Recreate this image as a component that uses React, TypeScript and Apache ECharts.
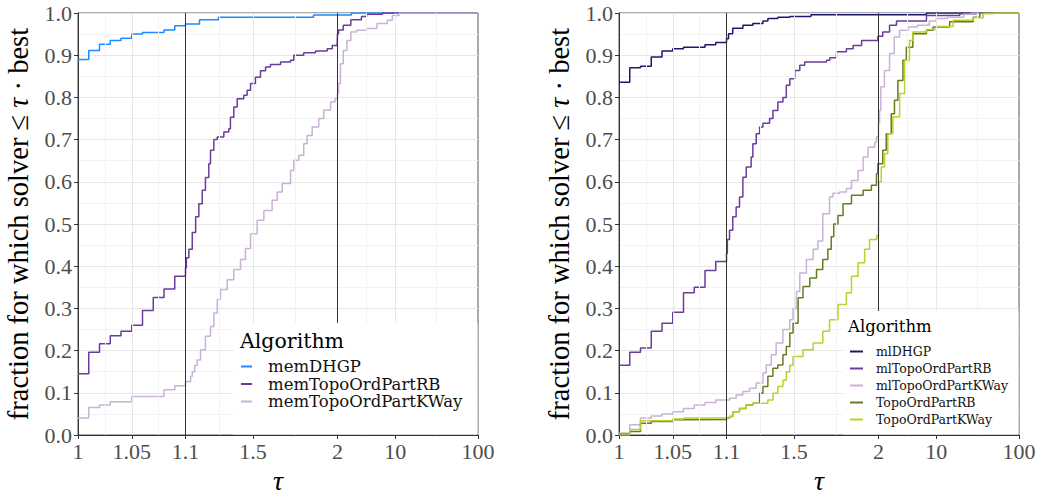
import React, { useEffect, useRef } from "react";
import * as echarts from "echarts";

// ---- axis ticks (tau) ----
const xTickVals = [1, 1.05, 1.1, 1.5, 2, 10, 100];
const xTickLabels = ["1", "1.05", "1.1", "1.5", "2", "10", "100"];
const xMinorVals = [1.025, 1.075, 1.3, 1.75, 4.4721, 31.623];
const xBreaks = [1.1, 2];

// ---- left panel series: [tau, fraction] ----
const memDHGP: number[][] = [
  [1, 0.89], [1.01, 0.911], [1.02, 0.926], [1.03, 0.935], [1.04, 0.94], [1.05, 0.95],
  [1.06, 0.954], [1.08, 0.96], [1.09, 0.97], [1.1, 0.974], [1.183, 0.984], [1.295, 0.99],
  [1.858, 0.995], [2.95, 1], [100, 1],
];
const memTopoOrdPartRB: number[][] = [
  [1, 0.145], [1.01, 0.196], [1.02, 0.216], [1.03, 0.235], [1.04, 0.246], [1.05, 0.26],
  [1.06, 0.295], [1.07, 0.326], [1.08, 0.346], [1.09, 0.376], [1.1, 0.396], [1.105, 0.42],
  [1.12, 0.44], [1.14, 0.48], [1.16, 0.517], [1.179, 0.548], [1.199, 0.58], [1.218, 0.61],
  [1.238, 0.643], [1.248, 0.675], [1.268, 0.7], [1.288, 0.706], [1.327, 0.718], [1.356, 0.726],
  [1.366, 0.753], [1.386, 0.777], [1.406, 0.797], [1.445, 0.805], [1.465, 0.817], [1.485, 0.833],
  [1.514, 0.848], [1.544, 0.863], [1.574, 0.872], [1.603, 0.878], [1.663, 0.884], [1.722, 0.888],
  [1.741, 0.9], [1.8, 0.906], [1.87, 0.91], [1.939, 0.915], [1.969, 0.923], [1.998, 0.927],
  [2.0, 0.951], [2.06, 0.96], [2.35, 0.971], [2.9, 0.984], [3.9, 0.992], [4.5, 0.997],
  [7.0, 1], [100, 1],
];
const memTopoOrdPartKWay: number[][] = [
  [1, 0.04], [1.01, 0.065], [1.02, 0.071], [1.03, 0.079], [1.05, 0.091], [1.08, 0.107],
  [1.09, 0.117], [1.1, 0.127], [1.13, 0.139], [1.14, 0.15], [1.155, 0.165], [1.169, 0.178],
  [1.189, 0.202], [1.218, 0.234], [1.248, 0.257], [1.268, 0.289], [1.288, 0.321], [1.307, 0.345],
  [1.347, 0.368], [1.386, 0.392], [1.426, 0.416], [1.455, 0.442], [1.485, 0.477], [1.524, 0.509],
  [1.564, 0.532], [1.613, 0.556], [1.643, 0.576], [1.673, 0.596], [1.722, 0.627], [1.741, 0.651],
  [1.771, 0.663], [1.8, 0.69], [1.82, 0.71], [1.85, 0.73], [1.889, 0.75], [1.919, 0.77],
  [1.959, 0.789], [1.985, 0.797], [2.0, 0.809], [2.06, 0.833], [2.17, 0.88], [2.35, 0.911],
  [2.6, 0.935], [2.9, 0.955], [3.4, 0.959], [4.5, 0.963], [6.0, 0.975], [8.0, 0.983],
  [9.2, 0.994], [11.1, 1], [100, 1],
];

// ---- right panel series ----
const mlDHGP: number[][] = [
  [1, 0.836], [1.01, 0.87], [1.02, 0.874], [1.03, 0.896], [1.04, 0.91], [1.05, 0.915],
  [1.06, 0.919], [1.08, 0.925], [1.09, 0.93], [1.1, 0.939], [1.112, 0.951], [1.137, 0.964],
  [1.197, 0.971], [1.256, 0.975], [1.316, 0.981], [1.345, 0.987], [1.404, 0.99], [1.475, 0.992],
  [1.6, 0.996], [7.6, 1], [100, 1],
];
const mlTopoOrdPartRB: number[][] = [
  [1, 0.165], [1.01, 0.196], [1.02, 0.206], [1.03, 0.246], [1.04, 0.265], [1.05, 0.291],
  [1.06, 0.337], [1.07, 0.35], [1.08, 0.39], [1.09, 0.411], [1.1, 0.43], [1.105, 0.463],
  [1.118, 0.485], [1.137, 0.517], [1.157, 0.54], [1.177, 0.564], [1.197, 0.611], [1.217, 0.635],
  [1.246, 0.659], [1.256, 0.69], [1.276, 0.714], [1.296, 0.73], [1.316, 0.739], [1.355, 0.75],
  [1.375, 0.769], [1.404, 0.789], [1.434, 0.8], [1.454, 0.829], [1.475, 0.844], [1.504, 0.864],
  [1.534, 0.876], [1.563, 0.884], [1.692, 0.888], [1.712, 0.894], [1.751, 0.908], [1.81, 0.915],
  [1.85, 0.923], [1.9, 0.935], [1.996, 0.945], [2.25, 0.955], [2.72, 0.971], [3.3, 0.981],
  [7.6, 0.994], [19.2, 0.998], [30.8, 1], [100, 1],
];
const mlTopoOrdPartKWay: number[][] = [
  [1, 0.005], [1.01, 0.024], [1.02, 0.04], [1.03, 0.045], [1.04, 0.05], [1.05, 0.055],
  [1.06, 0.063], [1.07, 0.071], [1.08, 0.077], [1.09, 0.083], [1.118, 0.087], [1.157, 0.095],
  [1.197, 0.103], [1.236, 0.111], [1.276, 0.123], [1.316, 0.147], [1.335, 0.166], [1.365, 0.19],
  [1.394, 0.218], [1.434, 0.25], [1.475, 0.273], [1.494, 0.3], [1.514, 0.34], [1.534, 0.384],
  [1.573, 0.416], [1.613, 0.44], [1.641, 0.46], [1.67, 0.524], [1.71, 0.564], [1.73, 0.573],
  [1.77, 0.576], [1.81, 0.584], [1.84, 0.603], [1.879, 0.627], [1.909, 0.659], [1.938, 0.682],
  [1.978, 0.694], [1.988, 0.706], [2.0, 0.74], [2.06, 0.769], [2.13, 0.825], [2.36, 0.864],
  [2.72, 0.904], [3.1, 0.943], [3.6, 0.959], [4.6, 0.967], [5.9, 0.971], [8.2, 0.981],
  [10, 0.987], [13.6, 0.99], [21.5, 0.997], [27, 1], [100, 1],
];
const TopoOrdPartRB: number[][] = [
  [1, 0.002], [1.01, 0.008], [1.02, 0.028], [1.03, 0.032], [1.05, 0.036], [1.06, 0.037],
  [1.1, 0.04], [1.118, 0.044], [1.137, 0.055], [1.177, 0.063], [1.217, 0.071], [1.256, 0.075],
  [1.296, 0.099], [1.316, 0.115], [1.345, 0.139], [1.375, 0.158], [1.404, 0.166], [1.434, 0.19],
  [1.454, 0.21], [1.475, 0.242], [1.494, 0.265], [1.524, 0.325], [1.553, 0.352], [1.593, 0.372],
  [1.633, 0.392], [1.67, 0.416], [1.7, 0.44], [1.72, 0.47], [1.735, 0.5], [1.76, 0.52],
  [1.79, 0.548], [1.84, 0.568], [1.909, 0.58], [1.958, 0.592], [1.988, 0.619], [1.996, 0.643],
  [2.25, 0.675], [2.48, 0.714], [2.85, 0.761], [3.12, 0.793], [3.43, 0.84], [3.95, 0.888],
  [4.34, 0.919], [5.2, 0.951], [7.6, 0.959], [9.15, 0.967], [14.5, 0.979], [27.9, 0.99],
  [33.6, 1], [100, 1],
];
const TopoOrdPartKWay: number[][] = [
  [1, 0.0], [1.01, 0.013], [1.02, 0.034], [1.05, 0.038], [1.06, 0.04], [1.1, 0.041],
  [1.118, 0.044], [1.137, 0.055], [1.177, 0.063], [1.217, 0.071], [1.256, 0.075], [1.345, 0.083],
  [1.375, 0.099], [1.404, 0.115], [1.434, 0.13], [1.454, 0.15], [1.475, 0.165], [1.494, 0.186],
  [1.553, 0.202], [1.613, 0.218], [1.67, 0.246], [1.71, 0.273], [1.76, 0.309], [1.81, 0.337],
  [1.84, 0.376], [1.879, 0.408], [1.918, 0.44], [1.947, 0.463], [1.99, 0.473], [2.0, 0.485],
  [2.02, 0.6], [2.16, 0.635], [2.36, 0.667], [2.59, 0.714], [2.98, 0.754], [3.6, 0.809],
  [4.14, 0.888], [4.74, 0.935], [5.2, 0.955], [7.6, 0.961], [10, 0.968], [16, 0.983],
  [27.9, 0.989], [36.9, 0.998], [48.8, 1], [100, 1],
];

const leftNames = ["memDHGP", "memTopoOrdPartRB", "memTopoOrdPartKWay"];
const leftData = [memDHGP, memTopoOrdPartRB, memTopoOrdPartKWay];
const leftColors = ["#1a8cff", "#6a3d9a", "#cab2d6"];
const rightNames = ["mlDHGP", "mlTopoOrdPartRB", "mlTopoOrdPartKWay", "TopoOrdPartRB", "TopoOrdPartKWay"];
const rightData = [mlDHGP, mlTopoOrdPartRB, mlTopoOrdPartKWay, TopoOrdPartRB, TopoOrdPartKWay];
const rightColors = ["#1a1a70", "#6a3d9a", "#cab2d6", "#6b7a1f", "#b8d12c"];

// piecewise tau scale: [1,1.1] linear, [1.1,2] linear, [2,100] log
const SA = 107.5, SB = 152, SC = 140.5;
function tx(v: number): number {
  if (v <= 1.1) return ((v - 1) / 0.1) * SA;
  if (v <= 2) return SA + ((v - 1.1) / 0.9) * SB;
  return SA + SB + (Math.log(v / 2) / Math.log(50)) * SC;
}
const tickPos = xTickVals.map(tx);

const SERIF = "Liberation Serif";
const LEG = "DejaVu Serif";

function buildPanel(gi: number, names: string[], datas: number[][][], colors: string[]) {
  const series: any[] = [];
  series.push({
    type: "line",
    xAxisIndex: gi,
    yAxisIndex: gi,
    data: [[0, 0]],
    symbol: "none",
    lineStyle: { opacity: 0 },
    z: 1,
    silent: true,
    markLine: {
      silent: true,
      symbol: "none",
      label: { show: false },
      animation: false,
      data: [
        ...xMinorVals.map((v) => ({ xAxis: tx(v), lineStyle: { color: "#f2f2f2", width: 1, type: "solid" } })),
        ...xTickVals.slice(1, -1).map((v) => ({ xAxis: tx(v), lineStyle: { color: "#e6e6e6", width: 1, type: "solid" } })),
      ],
    },
  });
  names.forEach((n, i) => {
    series.push({
      name: n,
      type: "line",
      xAxisIndex: gi,
      yAxisIndex: gi,
      step: "end",
      symbol: "none",
      z: 3,
      color: colors[i],
      lineStyle: { color: colors[i], width: 1.5 },
      data: datas[i].map(([t, f]) => [tx(t), f]),
    });
  });
  series.push({
    type: "line",
    xAxisIndex: gi,
    yAxisIndex: gi,
    data: [[0, 0]],
    symbol: "none",
    lineStyle: { opacity: 0 },
    z: 4,
    silent: true,
    markLine: {
      silent: true,
      symbol: "none",
      label: { show: false },
      animation: false,
      data: xBreaks.map((v) => ({ xAxis: tx(v), lineStyle: { color: "#333333", width: 1, type: "solid" } })),
    },
  });
  return series;
}

function xAxisOpt(gi: number) {
  return {
    type: "value",
    gridIndex: gi,
    min: 0,
    max: SA + SB + SC,
    name: "τ",
    nameLocation: "middle",
    nameGap: 20,
    nameTextStyle: { fontFamily: SERIF, fontStyle: "italic", fontSize: 28, color: "#000" },
    axisLine: { show: true, lineStyle: { color: "#333333", width: 1 } },
    axisTick: { show: true, length: 4, customValues: tickPos, lineStyle: { color: "#333333" } },
    axisLabel: {
      customValues: tickPos,
      margin: 5,
      fontFamily: SERIF,
      fontSize: 22,
      color: "#4d4d4d",
      formatter: (v: number) => {
        const i = tickPos.findIndex((p) => Math.abs(p - v) < 0.01);
        return i >= 0 ? xTickLabels[i] : "";
      },
    },
    splitLine: { show: false },
  };
}

function yAxisOpt(gi: number) {
  return {
    type: "value",
    gridIndex: gi,
    min: 0,
    max: 1,
    interval: 0.1,
    name: "{a|fraction for which solver ≤ }{b|τ}{a| · best}",
    nameLocation: "middle",
    nameGap: 45,
    nameTextStyle: {
      color: "#000",
      rich: {
        a: { fontFamily: SERIF, fontSize: 28.5, color: "#000" },
        b: { fontFamily: SERIF, fontSize: 28.5, fontStyle: "italic", color: "#000" },
      },
    },
    axisLine: { show: true, lineStyle: { color: "#333333", width: 1 } },
    axisTick: { show: true, length: 4, lineStyle: { color: "#333333" } },
    minorTick: { show: false, splitNumber: 2 },
    minorSplitLine: { show: true, lineStyle: { color: "#f2f2f2", width: 1 } },
    splitLine: { show: true, lineStyle: { color: "#e6e6e6", width: 1 } },
    axisLabel: {
      margin: 6,
      fontFamily: SERIF,
      fontSize: 22,
      color: "#4d4d4d",
      formatter: (v: number) => v.toFixed(1),
    },
  };
}

export default function App() {
  const ref = useRef<HTMLDivElement>(null);
  useEffect(() => {
    if (!ref.current) return;
    const chart = echarts.init(ref.current, null, { renderer: "svg" });
    const option: any = {
      animation: false,
      backgroundColor: "#ffffff",
      grid: [
        { left: 78, top: 13, width: 400, height: 422, outerBoundsMode: "none", containLabel: false, show: true, borderColor: "#555555", borderWidth: 1, backgroundColor: "transparent" },
        { left: 619, top: 13, width: 400, height: 422, outerBoundsMode: "none", containLabel: false, show: true, borderColor: "#555555", borderWidth: 1, backgroundColor: "transparent" },
      ],
      xAxis: [xAxisOpt(0), xAxisOpt(1)],
      yAxis: [yAxisOpt(0), yAxisOpt(1)],
      legend: [
        {
          data: leftNames,
          orient: "vertical",
          left: 241,
          top: 358,
          padding: 0,
          icon: "rect",
          itemWidth: 11,
          itemHeight: 2,
          itemGap: 0.5,
          selectedMode: false,
          z: 12,
          textStyle: { fontFamily: LEG, fontSize: 16.5, color: "#111111", padding: [0, 0, 0, 11] },
        },
        {
          data: rightNames,
          orient: "vertical",
          left: 850,
          top: 345,
          padding: 0,
          icon: "rect",
          itemWidth: 13,
          itemHeight: 2,
          itemGap: 4,
          selectedMode: false,
          z: 12,
          textStyle: { fontFamily: LEG, fontSize: 12.5, color: "#111111", padding: [0, 0, 0, 8] },
        },
      ],
      graphic: [
        { type: "rect", z: 10, silent: true, shape: { x: 233, y: 323, width: 244.5, height: 111.5 }, style: { fill: "#ffffff" } },
        { type: "rect", z: 10, silent: true, shape: { x: 843, y: 311, width: 175.5, height: 123.5 }, style: { fill: "#ffffff" } },
        { type: "text", z: 12, x: 240, y: 341, style: { text: "Algorithm", fontFamily: LEG, fontSize: 20.5, fill: "#000", verticalAlign: "middle" } },
        { type: "text", z: 12, x: 848, y: 326, style: { text: "Algorithm", fontFamily: LEG, fontSize: 16.5, fill: "#000", verticalAlign: "middle" } },
      ],
      series: [
        ...buildPanel(0, leftNames, leftData, leftColors),
        ...buildPanel(1, rightNames, rightData, rightColors),
      ],
    };
    chart.setOption(option);
    return () => chart.dispose();
  }, []);
  return <div ref={ref} style={{ position: "absolute", left: 0, top: 0, width: 1038, height: 490 }} />;
}
